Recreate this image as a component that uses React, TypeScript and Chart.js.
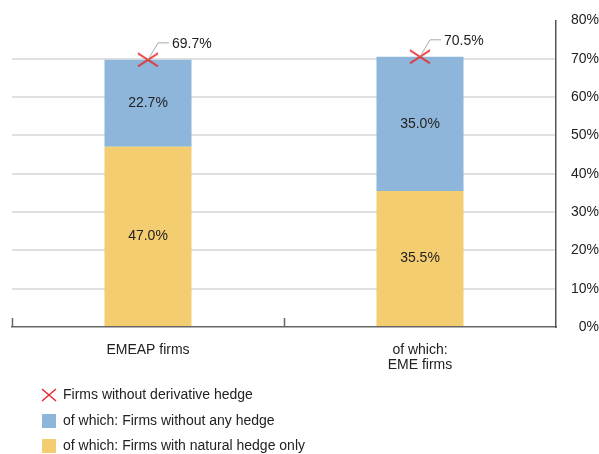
import React, { useEffect, useRef } from "react";
import { Chart, registerables } from "chart.js";

Chart.register(...registerables);

// Share of firms, in per cent
const categories: (string | string[])[] = ["EMEAP firms", ["of which:", "EME firms"]];
const naturalHedgeOnly = [47.0, 35.5];
const withoutAnyHedge = [22.7, 35.0];
const withoutDerivativeHedge = [69.7, 70.5];

const seriesLabels = {
  derivative: "Firms without derivative hedge",
  noHedge: "of which: Firms without any hedge",
  natural: "of which: Firms with natural hedge only",
};

const yTicks = [0, 10, 20, 30, 40, 50, 60, 70, 80];

const YELLOW = "#F4CD70";
const BLUE = "#8EB6DA";
const RED = "#E8282B";
const TEXT = "#222222";
const AXIS = "#666666";
const FONT = "'Liberation Sans', Arial, Helvetica, sans-serif";

const fmt = (v: number) => v.toFixed(1) + "%";

function makeCross(w: number, h: number, color: string, lw: number) {
  const c = document.createElement("canvas");
  c.width = w;
  c.height = h;
  const g = c.getContext("2d")!;
  g.strokeStyle = color;
  g.lineWidth = lw;
  g.beginPath();
  g.moveTo(1, 1);
  g.lineTo(w - 1, h - 1);
  g.moveTo(w - 1, 1);
  g.lineTo(1, h - 1);
  g.stroke();
  return c;
}

// Small upward tick marks at the category boundaries on the x axis
const categoryTicks = {
  id: "categoryTicks",
  afterDraw(chart: any) {
    const x = chart.scales.x;
    const { ctx } = chart;
    const n = chart.data.labels.length;
    const step = (x.right - x.left) / n;
    ctx.save();
    ctx.strokeStyle = AXIS;
    ctx.lineWidth = 1.5;
    for (let i = 0; i < n; i++) {
      const px = Math.round(x.left + i * step) + 0.5;
      ctx.beginPath();
      ctx.moveTo(px, x.top);
      ctx.lineTo(px, x.top - 9);
      ctx.stroke();
    }
    ctx.restore();
  },
};

// Values written inside the bar segments and beside the markers
const valueLabels = {
  id: "valueLabels",
  afterDatasetsDraw(chart: any) {
    const { ctx } = chart;
    ctx.save();
    ctx.font = `14px ${FONT}`;
    ctx.fillStyle = TEXT;
    chart.data.datasets.forEach((ds: any, di: number) => {
      const meta = chart.getDatasetMeta(di);
      meta.data.forEach((el: any, i: number) => {
        const v = ds.data[i] as number;
        if (ds.type === "line") {
          ctx.strokeStyle = "#A8A8A8";
          ctx.lineWidth = 1;
          ctx.beginPath();
          ctx.moveTo(el.x, el.y);
          ctx.lineTo(el.x + 10, el.y - 17);
          ctx.lineTo(el.x + 21, el.y - 17);
          ctx.stroke();
          ctx.textAlign = "left";
          ctx.textBaseline = "middle";
          ctx.fillText(fmt(v), el.x + 24, el.y - 16);
        } else {
          ctx.textAlign = "center";
          ctx.textBaseline = "middle";
          ctx.fillText(fmt(v), el.x, (el.y + el.base) / 2);
        }
      });
    });
    ctx.restore();
  },
};

// Vertical legend below the axis
const listLegend = {
  id: "listLegend",
  afterDraw(chart: any) {
    const { ctx } = chart;
    const ds = chart.data.datasets;
    const rows = [
      { label: ds[0].label, kind: "cross", color: RED, y: 395 },
      { label: ds[2].label, kind: "box", color: ds[2].backgroundColor, y: 421 },
      { label: ds[1].label, kind: "box", color: ds[1].backgroundColor, y: 446 },
    ];
    ctx.save();
    ctx.font = `14px ${FONT}`;
    ctx.textAlign = "left";
    ctx.textBaseline = "middle";
    rows.forEach((r) => {
      if (r.kind === "cross") {
        ctx.strokeStyle = r.color;
        ctx.lineWidth = 1.5;
        ctx.beginPath();
        ctx.moveTo(42, r.y - 6);
        ctx.lineTo(56, r.y + 6);
        ctx.moveTo(56, r.y - 6);
        ctx.lineTo(42, r.y + 6);
        ctx.stroke();
      } else {
        ctx.fillStyle = r.color;
        ctx.fillRect(42, r.y - 7, 14, 14);
      }
      ctx.fillStyle = TEXT;
      ctx.fillText(r.label, 63, r.y);
    });
    ctx.restore();
  },
};

export default function App() {
  const ref = useRef<HTMLCanvasElement | null>(null);

  useEffect(() => {
    if (!ref.current) return;
    Chart.defaults.font.family = FONT;
    const cross = makeCross(22, 15, RED, 1.5);
    const chart = new Chart(ref.current, {
      type: "bar",
      data: {
        labels: categories as any,
        datasets: [
          {
            type: "line" as any,
            label: seriesLabels.derivative,
            data: withoutDerivativeHedge,
            showLine: false,
            pointStyle: cross as any,
            pointRadius: 8,
            stack: "total",
          } as any,
          {
            label: seriesLabels.natural,
            data: naturalHedgeOnly,
            backgroundColor: YELLOW,
            stack: "firms",
            categoryPercentage: 1,
            barPercentage: 0.32,
          },
          {
            label: seriesLabels.noHedge,
            data: withoutAnyHedge,
            backgroundColor: BLUE,
            stack: "firms",
            categoryPercentage: 1,
            barPercentage: 0.32,
          },
        ],
      },
      options: {
        responsive: false,
        animation: false,
        devicePixelRatio: 1,
        layout: { padding: { left: 12, top: 20, right: 0, bottom: 0 } },
        plugins: {
          legend: { display: false },
          tooltip: { enabled: false },
        },
        scales: {
          x: {
            stacked: true,
            grid: { display: false, drawTicks: false },
            border: { display: true, color: AXIS, width: 1.5 },
            ticks: { font: { size: 14, family: FONT, lineHeight: 1.1 }, color: TEXT, padding: 15 },
            afterFit: (s: any) => {
              s.height = 127;
            },
          },
          y: {
            position: "right",
            stacked: true,
            min: 0,
            max: 80,
            afterBuildTicks: (s: any) => {
              s.ticks = yTicks.map((v) => ({ value: v }));
            },
            grid: {
              drawTicks: false,
              lineWidth: 2,
              color: (c: any) =>
                c.tick && (c.tick.value === 0 || c.tick.value === 80) ? "rgba(0,0,0,0)" : "#E0E0E0",
            },
            border: { display: true, color: "#555555", width: 1.5 },
            ticks: {
              font: { size: 14, family: FONT },
              color: TEXT,
              crossAlign: "far",
              padding: 12,
              callback: (v: any) => v + "%",
            },
            afterFit: (s: any) => {
              s.width = 43;
            },
          },
        },
      },
      plugins: [categoryTicks, valueLabels, listLegend],
    });
    return () => chart.destroy();
  }, []);

  return (
    <div style={{ position: "absolute", left: 0, top: 0, width: 599, height: 454, background: "#fff" }}>
      <canvas ref={ref} width={599} height={454} />
    </div>
  );
}
